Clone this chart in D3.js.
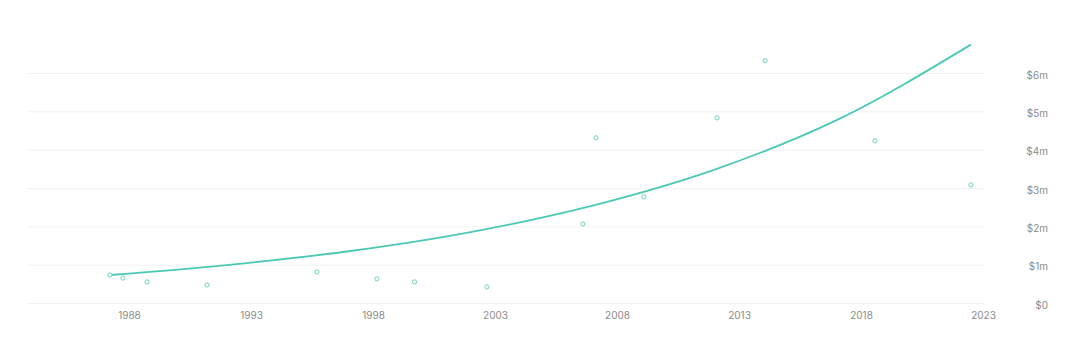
<!DOCTYPE html>
<html>
<head>
<meta charset="utf-8">
<script src="https://cdn.jsdelivr.net/npm/d3@7"></script>
<style>
  html, body { margin: 0; padding: 0; background: #fff; }
  svg { display: block; }
  text { font-family: Inter, "Noto Sans", sans-serif; }
</style>
</head>
<body>
<svg id="chart" width="1070" height="348"></svg>
<script>
// Data (year as decimal, value in $ millions)
const pointYears  = [1987.22, 1987.75, 1988.74, 1991.2, 1995.7, 1998.16, 1999.7, 2002.67, 2006.6, 2007.14, 2009.1, 2012.1, 2014.07, 2018.57, 2022.5];
const pointValues = [0.73, 0.65, 0.55, 0.47, 0.81, 0.63, 0.55, 0.42, 2.06, 4.31, 2.77, 4.83, 6.32, 4.23, 3.08];

// Trend line
const trendYears  = [1987.22, 1992, 1997, 2002, 2007, 2012, 2017, 2022.5];
const trendValues = [0.73, 0.99, 1.35, 1.85, 2.54, 3.48, 4.77, 6.74];

const xTickYears  = [1988, 1993, 1998, 2003, 2008, 2013, 2018, 2023];
const yTickValues = [0, 1, 2, 3, 4, 5, 6];
const yTickLabels = ["$0", "$1m", "$2m", "$3m", "$4m", "$5m", "$6m"];

const svg = d3.select("#chart");
const teal = "#4cc9b3";
const labelColor = "#8c8c8c";

const x = d3.scaleLinear().domain([1983.82, 2023.08]).range([27, 985]);
const y = d3.scaleLinear().domain([0, 6]).range([303, 73]);

// Gridlines
const yGrid = d3.axisRight(y).tickValues(yTickValues).tickSize(958).tickFormat("");
svg.append("g")
  .attr("transform", `translate(27,0)`)
  .call(yGrid)
  .call(g => g.select(".domain").remove())
  .call(g => g.selectAll("line").attr("stroke", "#f2f2f2").attr("stroke-width", 1));

// Y axis labels (right side)
const yAxis = d3.axisRight(y).tickValues(yTickValues).tickSize(0)
  .tickFormat((d, i) => yTickLabels[i]);
svg.append("g")
  .attr("transform", `translate(1048,2)`)
  .call(yAxis)
  .call(g => g.select(".domain").remove())
  .call(g => g.selectAll("text")
    .attr("x", 0).attr("text-anchor", "end")
    .attr("fill", labelColor).attr("font-size", 10)
    .style("font-family", "Inter, 'Noto Sans', sans-serif"));

// X axis labels
const xAxis = d3.axisBottom(x).tickValues(xTickYears).tickSize(0).tickFormat(d3.format("d"));
svg.append("g")
  .attr("transform", `translate(0,309)`)
  .call(xAxis)
  .call(g => g.select(".domain").remove())
  .call(g => g.selectAll("text")
    .attr("fill", labelColor).attr("font-size", 10)
    .style("font-family", "Inter, 'Noto Sans', sans-serif"));

// Trend line
const trend = trendYears.map((t, i) => [t, trendValues[i]]);
svg.append("path")
  .datum(trend)
  .attr("fill", "none")
  .attr("stroke", teal)
  .attr("stroke-width", 1.8)
  .attr("d", d3.line().x(d => x(d[0])).y(d => y(d[1])).curve(d3.curveMonotoneX));

// Points
const pts = pointYears.map((t, i) => [t, pointValues[i]]);
svg.append("g").selectAll("circle")
  .data(pts)
  .join("circle")
  .attr("cx", d => x(d[0]))
  .attr("cy", d => y(d[1]))
  .attr("r", 2.1)
  .attr("fill", "#fff")
  .attr("stroke", "#6fd1bf")
  .attr("stroke-width", 1);
</script>
</body>
</html>
